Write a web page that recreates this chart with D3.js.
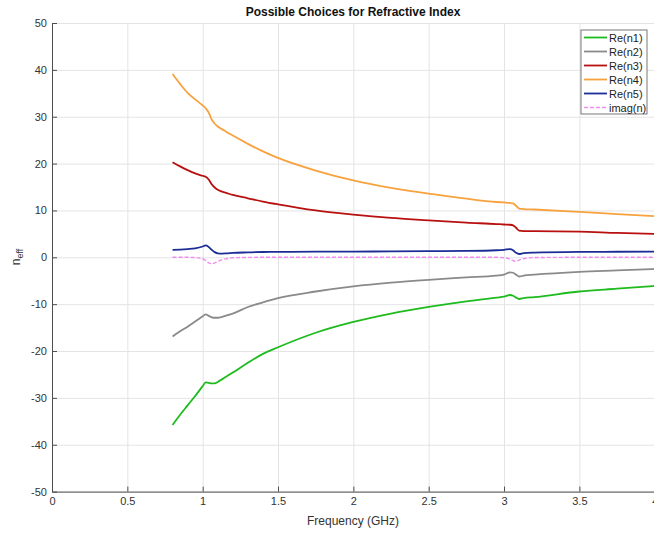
<!DOCTYPE html>
<html>
<head>
<meta charset="utf-8">
<script src="https://cdn.jsdelivr.net/npm/d3@7"></script>
<style>
  body { margin: 0; background: #fff; }
  svg text { font-family: "Liberation Sans", Arial, Helvetica, sans-serif; }
</style>
</head>
<body>
<svg id="chart"></svg>
<script>
// frequency samples (GHz)
const freq = [0.80, 0.85, 0.90, 0.95, 1.00, 1.02, 1.04, 1.06, 1.08, 1.10, 1.13, 1.16, 1.20, 1.30, 1.40, 1.50,
  1.75, 2.00, 2.25, 2.50, 2.75, 2.95, 3.00, 3.04, 3.06, 3.08, 3.10, 3.13, 3.20, 3.50, 3.75, 4.00];

const reN1 = [-35.8, -33.6, -31.6, -29.6, -27.5, -26.7, -26.8, -26.9, -26.9, -26.6, -26.0, -25.4, -24.6, -22.5, -20.6, -19.2,
  -16.1, -13.8, -12.0, -10.6, -9.4, -8.6, -8.4, -8.05, -8.2, -8.6, -8.9, -8.7, -8.5, -7.3, -6.7, -6.1];
const reN2 = [-16.9, -15.8, -14.8, -13.7, -12.6, -12.2, -12.5, -12.8, -12.9, -12.9, -12.7, -12.4, -12.0, -10.6, -9.6, -8.7,
  -7.3, -6.2, -5.4, -4.8, -4.3, -3.9, -3.7, -3.2, -3.3, -3.7, -4.1, -3.9, -3.7, -3.1, -2.8, -2.5];
const reN3 = [20.3, 19.4, 18.6, 17.9, 17.4, 17.2, 16.6, 15.6, 14.9, 14.4, 14.0, 13.7, 13.3, 12.6, 11.9, 11.3,
  10.0, 9.1, 8.4, 7.9, 7.4, 7.1, 7.0, 6.95, 6.8, 6.3, 5.7, 5.6, 5.6, 5.5, 5.2, 5.0];
const reN4 = [39.1, 37.0, 35.1, 33.7, 32.4, 31.8, 30.9, 29.4, 28.5, 27.9, 27.3, 26.7, 26.0, 24.2, 22.6, 21.2,
  18.5, 16.4, 14.8, 13.6, 12.5, 11.8, 11.7, 11.6, 11.5, 11.0, 10.4, 10.3, 10.2, 9.7, 9.2, 8.8];
const reN5 = [1.6, 1.65, 1.75, 1.9, 2.3, 2.55, 2.2, 1.6, 1.1, 0.85, 0.8, 0.85, 0.95, 1.05, 1.13, 1.15,
  1.2, 1.22, 1.25, 1.3, 1.35, 1.5, 1.6, 1.75, 1.5, 0.95, 0.7, 0.9, 1.0, 1.15, 1.18, 1.2];
const imagN = [0, 0, 0, -0.05, -0.3, -0.7, -1.2, -1.4, -1.2, -0.9, -0.5, -0.3, -0.1, -0.02, 0, 0,
  0, 0, 0, 0, 0, 0, -0.1, -0.4, -0.7, -0.9, -0.6, -0.3, -0.05, 0, 0, 0];

const seriesNames = ["Re(n1)", "Re(n2)", "Re(n3)", "Re(n4)", "Re(n5)", "imag(n)"];
const seriesColors = ["#1dbb1d", "#8a8a8a", "#b80f0f", "#f7a23e", "#1c2d96", "#f08ef0"];

const xTicks = [0, 0.5, 1, 1.5, 2, 2.5, 3, 3.5, 4];
const xTickLabels = ["0", "0.5", "1", "1.5", "2", "2.5", "3", "3.5", "4"];
const yTicks = [-50, -40, -30, -20, -10, 0, 10, 20, 30, 40, 50];
const yTickLabels = ["-50", "-40", "-30", "-20", "-10", "0", "10", "20", "30", "40", "50"];

const width = 654, height = 533;
const svg = d3.select("#chart").attr("width", width).attr("height", height);

const x = d3.scaleLinear().domain([0, 4]).range([52, 654.7]);
const y = d3.scaleLinear().domain([-50, 50]).range([491.6, 23]);

// grid
svg.append("g")
  .attr("transform", `translate(0,${y(-50)})`)
  .call(d3.axisBottom(x).tickValues(xTicks).tickSize(-(y(-50) - y(50))).tickFormat(""))
  .call(g => g.select(".domain").remove())
  .call(g => g.selectAll("line").attr("stroke", "#e4e4e4"));
svg.append("g")
  .attr("transform", `translate(${x(0)},0)`)
  .call(d3.axisLeft(y).tickValues(yTicks).tickSize(-(x(4) - x(0))).tickFormat(""))
  .call(g => g.select(".domain").remove())
  .call(g => g.selectAll("line").attr("stroke", "#e4e4e4"));

// series
const allSeries = [reN1, reN2, reN3, reN4, reN5, imagN];
const line = d3.line().x((d, i) => x(freq[i])).y(d => y(d)).curve(d3.curveMonotoneX);

allSeries.forEach((vals, k) => {
  svg.append("path")
    .datum(vals)
    .attr("fill", "none")
    .attr("stroke", seriesColors[k])
    .attr("stroke-width", k === 5 ? 1.4 : 1.8)
    .attr("stroke-dasharray", k === 5 ? "4,2" : null)
    .attr("d", line);
});

// axes
const xAxis = svg.append("g")
  .attr("transform", `translate(0,${y(-50)})`)
  .call(d3.axisBottom(x).tickValues(xTicks).tickSizeInner(-5).tickSizeOuter(0).tickPadding(6)
    .tickFormat((d, i) => xTickLabels[i]));
const yAxis = svg.append("g")
  .attr("transform", `translate(${x(0)},0)`)
  .call(d3.axisLeft(y).tickValues(yTicks).tickSizeInner(-5).tickSizeOuter(0).tickPadding(5)
    .tickFormat((d, i) => yTickLabels[i]));
[xAxis, yAxis].forEach(g => {
  g.select(".domain").attr("stroke", "#4d4d4d");
  g.selectAll(".tick line").attr("stroke", "#4d4d4d");
  g.selectAll(".tick text").attr("fill", "#333").style("font-size", "11px");
});

// title and labels
svg.append("text")
  .attr("x", 353).attr("y", 16)
  .attr("text-anchor", "middle")
  .style("font-size", "12px").style("font-weight", "bold")
  .attr("fill", "#111")
  .text("Possible Choices for Refractive Index");

svg.append("text")
  .attr("x", 353).attr("y", 525)
  .attr("text-anchor", "middle")
  .style("font-size", "12px")
  .attr("fill", "#333")
  .text("Frequency (GHz)");

const yl = svg.append("text")
  .attr("transform", "translate(20,257) rotate(-90)")
  .attr("text-anchor", "middle")
  .style("font-size", "12px")
  .attr("fill", "#333");
yl.append("tspan").text("n");
yl.append("tspan").attr("dy", 3).style("font-size", "9px").text("eff");

// legend
const legend = svg.append("g").attr("transform", "translate(581,30)");
legend.append("rect")
  .attr("width", 66).attr("height", 84)
  .attr("fill", "#fff").attr("stroke", "#555").attr("stroke-width", 0.8);
seriesNames.forEach((name, k) => {
  const row = legend.append("g").attr("transform", `translate(0,${7.5 + k * 14})`);
  row.append("line")
    .attr("x1", 3).attr("x2", 26)
    .attr("stroke", seriesColors[k])
    .attr("stroke-width", k === 5 ? 1.4 : 1.8)
    .attr("stroke-dasharray", k === 5 ? "4,2" : null);
  row.append("text")
    .attr("x", 28).attr("y", 4)
    .style("font-size", "11px")
    .attr("fill", "#222")
    .text(name);
});
</script>
</body>
</html>
